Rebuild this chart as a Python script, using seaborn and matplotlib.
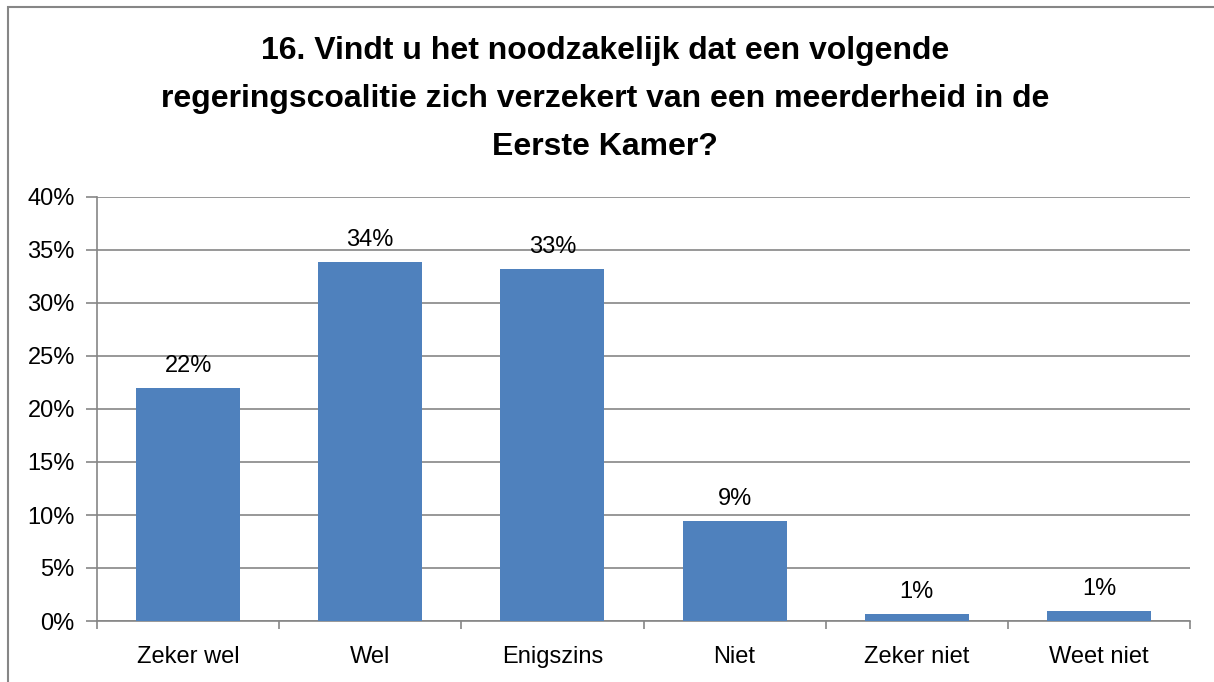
import numpy as np
import pandas as pd
import seaborn as sns
import matplotlib.pyplot as plt
from matplotlib.patches import Rectangle
from matplotlib.ticker import FixedLocator

categories = ['Zeker wel', 'Wel', 'Enigszins', 'Niet', 'Zeker niet', 'Weet niet']
values = [22.0, 33.9, 33.2, 9.4, 0.65, 0.95]
labels = ['22%', '34%', '33%', '9%', '1%', '1%']
title = ('16. Vindt u het noodzakelijk dat een volgende\n'
         'regeringscoalitie zich verzekert van een meerderheid in de\n'
         'Eerste Kamer?')

df = pd.DataFrame({'category': categories, 'value': values})

sns.set_style('white')
plt.rcParams['font.family'] = ['Liberation Sans', 'DejaVu Sans']
plt.rcParams['text.color'] = 'black'
plt.rcParams['xtick.color'] = 'black'
plt.rcParams['ytick.color'] = 'black'

fig = plt.figure(figsize=(12.14, 6.82), dpi=100)
ax = fig.add_axes([97 / 1214, 1 - 621 / 682, (1190 - 97) / 1214, (621 - 197) / 682])

grid_col = '#868686'
sns.barplot(data=df, x='category', y='value', color='#4F81BD', saturation=1,
            width=0.57, linewidth=0, ax=ax, zorder=3)

ax.set_ylim(0, 40)
ax.set_xlim(-0.5, len(categories) - 0.5)
ax.set_yticks(np.arange(0, 41, 5))
ax.set_yticklabels([f'{t}%' for t in range(0, 41, 5)], fontsize=17)
ax.yaxis.grid(True, color=grid_col, linewidth=1.2, zorder=0)
ax.set_axisbelow(True)
ax.tick_params(axis='y', length=8, width=1.2, color=grid_col, labelcolor='black',
               pad=8, direction='out', left=True)
ax.tick_params(axis='x', which='major', length=0, labelsize=17, labelcolor='black', pad=18)
ax.xaxis.set_minor_locator(FixedLocator(np.arange(-0.5, len(categories), 1)))
ax.tick_params(axis='x', which='minor', length=6, width=1.2, color=grid_col, bottom=True, direction='out')
ax.set_xlabel('')
ax.set_ylabel('')

for s in ['top', 'right']:
    ax.spines[s].set_visible(False)
for s in ['left', 'bottom']:
    ax.spines[s].set_color(grid_col)
    ax.spines[s].set_linewidth(1.2)

for i, (v, lab) in enumerate(zip(values, labels)):
    ax.annotate(lab, (i, v), xytext=(0, 8), textcoords='offset points',
                ha='center', va='bottom', fontsize=17)

fig.text(605 / 1214, 1 - 99 / 682, title, ha='center', va='center', fontsize=23,
         fontweight='bold', linespacing=1.8)

fig.patches.append(Rectangle((8 / 1214, -0.05), 1.2, 1 - 7 / 682 + 0.05,
                             transform=fig.transFigure, fill=False,
                             edgecolor=grid_col, linewidth=1.5))

fig.savefig('out.png', dpi=100)
